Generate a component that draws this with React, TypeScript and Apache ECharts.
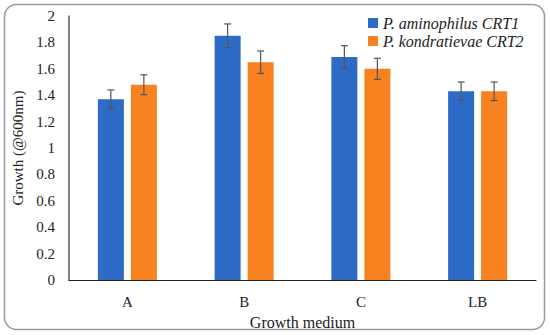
import React, { useEffect, useRef } from "react";
import * as echarts from "echarts";

const categories = ["A", "B", "C", "LB"];
const seriesNames = ["P. aminophilus CRT1", "P. kondratievae CRT2"];
const crt1Values = [1.37, 1.85, 1.69, 1.43];
const crt1Errors = [0.07, 0.09, 0.085, 0.07];
const crt2Values = [1.48, 1.65, 1.6, 1.43];
const crt2Errors = [0.075, 0.085, 0.08, 0.07];
const colors = ["#2E6BC6", "#F7821F"];

const FONT = "Liberation Serif";
const BAR_W = 26;
const GAP = 7;

function errorSeries(values: number[], errors: number[], offset: number) {
  return {
    type: "custom",
    silent: true,
    z: 10,
    data: values.map((v, i) => [i, v - errors[i], v + errors[i]]),
    renderItem: (params: any, api: any) => {
      const idx = api.value(0);
      const lo = api.coord([idx, api.value(1)]);
      const hi = api.coord([idx, api.value(2)]);
      const x = lo[0] + offset;
      const cap = 3.5;
      const style = { stroke: "#555555", lineWidth: 1.2 };
      return {
        type: "group",
        children: [
          { type: "line", shape: { x1: x, y1: lo[1], x2: x, y2: hi[1] }, style },
          { type: "line", shape: { x1: x - cap, y1: lo[1], x2: x + cap, y2: lo[1] }, style },
          { type: "line", shape: { x1: x - cap, y1: hi[1], x2: x + cap, y2: hi[1] }, style },
        ],
      };
    },
  };
}

export default function App() {
  const ref = useRef<HTMLDivElement>(null);
  useEffect(() => {
    document.body.style.margin = "0";
    const chart = echarts.init(ref.current!, null, { renderer: "svg" });
    const off = (BAR_W + GAP) / 2;
    chart.setOption({
      animation: false,
      textStyle: { fontFamily: FONT },
      graphic: [
        {
          type: "rect",
          shape: { x: 4.5, y: 4.5, width: 540, height: 325, r: 12 },
          style: { fill: "none", stroke: "#9A9A9A", lineWidth: 1.5 },
          silent: true,
        },
      ],
      legend: {
        orient: "vertical",
        left: 363,
        top: 10,
        itemWidth: 10,
        itemHeight: 10,
        itemGap: 2,
        icon: "rect",
        textStyle: {
          fontFamily: FONT,
          fontSize: 16,
          lineHeight: 16,
          fontStyle: "italic",
          color: "#222",
        },
        data: seriesNames,
      },
      grid: { left: 69, right: 14, top: 16, bottom: 54, containLabel: false },
      xAxis: {
        type: "category",
        data: categories,
        name: "Growth medium",
        nameLocation: "middle",
        nameGap: 29,
        nameTextStyle: { fontFamily: FONT, fontSize: 16, color: "#222" },
        axisLine: { lineStyle: { color: "#222", width: 1.2 } },
        axisTick: { show: false },
        axisLabel: { fontFamily: FONT, fontSize: 15, color: "#222", margin: 14 },
      },
      yAxis: {
        type: "value",
        min: 0,
        max: 2,
        interval: 0.2,
        name: "Growth (@600nm)",
        nameLocation: "middle",
        nameGap: 39,
        nameTextStyle: { fontFamily: FONT, fontSize: 15, color: "#222" },
        axisLine: { show: true, lineStyle: { color: "#555", width: 1.5 } },
        axisTick: { show: false },
        splitLine: { show: false },
        axisLabel: {
          fontFamily: FONT,
          fontSize: 15,
          color: "#222",
          margin: 14,
          formatter: (v: number) => String(Math.round(v * 10) / 10),
        },
      },
      series: [
        {
          name: seriesNames[0],
          type: "bar",
          data: crt1Values,
          barWidth: BAR_W,
          barGap: (GAP / BAR_W) * 100 + "%",
          itemStyle: { color: colors[0] },
        },
        {
          name: seriesNames[1],
          type: "bar",
          data: crt2Values,
          barWidth: BAR_W,
          barGap: (GAP / BAR_W) * 100 + "%",
          itemStyle: { color: colors[1] },
        },
        errorSeries(crt1Values, crt1Errors, -off),
        errorSeries(crt2Values, crt2Errors, off),
      ],
    });
    return () => chart.dispose();
  }, []);
  return <div ref={ref} style={{ width: 550, height: 335 }} />;
}
